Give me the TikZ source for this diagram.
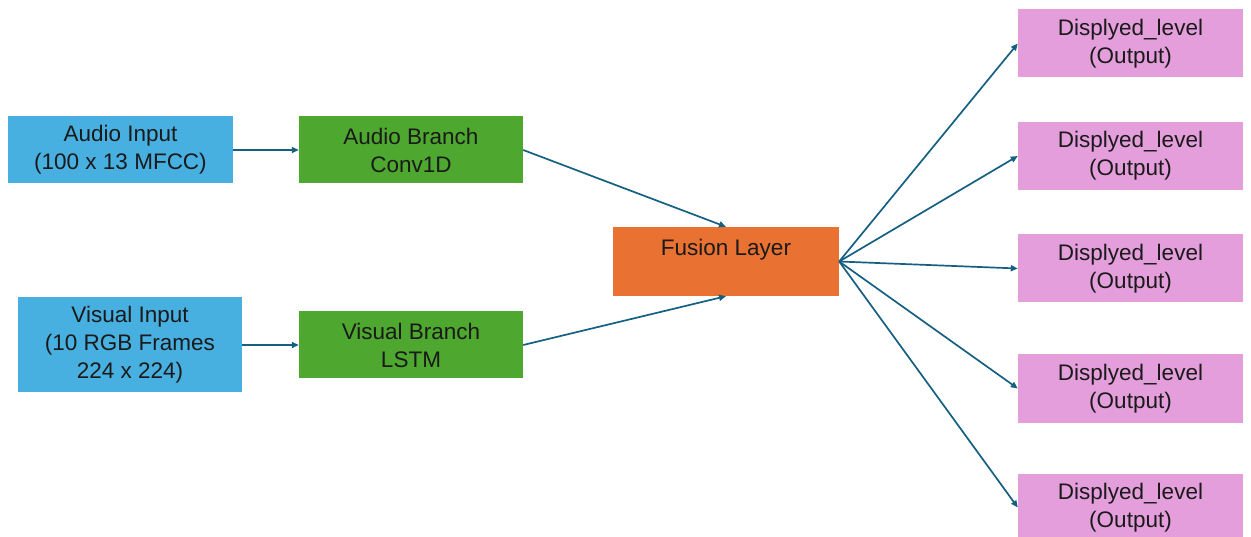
\documentclass[tikz,border=0pt]{standalone}
\usepackage{fontspec}
\setmainfont{Liberation Sans}
\usetikzlibrary{arrows.meta}
\definecolor{inblue}{HTML}{47B0E0}
\definecolor{brgreen}{HTML}{4EA72E}
\definecolor{fuseorange}{HTML}{E97132}
\definecolor{outpink}{HTML}{E49EDB}
\definecolor{linkblue}{HTML}{156082}
\definecolor{txt}{HTML}{1A1A1A}
\begin{document}
\begin{tikzpicture}[x=1pt,y=-1pt,
  box/.style={rectangle, inner sep=0pt, align=center, text=txt,
    font=\fontsize{22.5}{28}\selectfont, minimum width=225pt, minimum height=67pt},
  inbox/.style={box, fill=inblue},
  branchbox/.style={box, fill=brgreen, minimum width=224pt},
  fusebox/.style={box, fill=fuseorange, minimum width=226pt, minimum height=69pt},
  outbox/.style={box, fill=outpink, minimum height=68pt},
  link/.style={draw=linkblue, line width=1.7pt, -{Triangle[length=7pt,width=6pt]}}]
\useasboundingbox (0,0) rectangle (1251,537);

% inputs
\node[inbox] (ain) at (120.5,150) {Audio Input\\(100 x 13 MFCC)};
\node[inbox, minimum width=224pt, minimum height=95pt] (vin) at (130,345) {Visual Input\\(10 RGB Frames\\224 x 224)};

% branches
\node[branchbox] (abr) at (411,150) {Audio Branch\\Conv1D};
\node[branchbox] (vbr) at (411,345) {Visual Branch\\LSTM};

% fusion
\node[fusebox] (fus) at (726,261.5) {Fusion Layer\\\mbox{}};

% outputs
\node[outbox] (o1) at (1130.5,43.5) {Displyed\_level\\(Output)};
\node[outbox] (o2) at (1130.5,156) {Displyed\_level\\(Output)};
\node[outbox] (o3) at (1130.5,268.5) {Displyed\_level\\(Output)};
\node[outbox] (o4) at (1130.5,388.5) {Displyed\_level\\(Output)};
\node[outbox] (o5) at (1130.5,507.5) {Displyed\_level\\(Output)};

% connectors
\draw[link] (ain.east) -- (abr.west);
\draw[link] (vin.east |- vbr.west) -- (vbr.west);
\draw[link] (abr.east) -- (fus.north);
\draw[link] (vbr.east) -- (fus.south);
\foreach \o in {o1,o2,o3,o4,o5}
  \draw[link] (fus.east) -- (\o.west);
\end{tikzpicture}
\end{document}
